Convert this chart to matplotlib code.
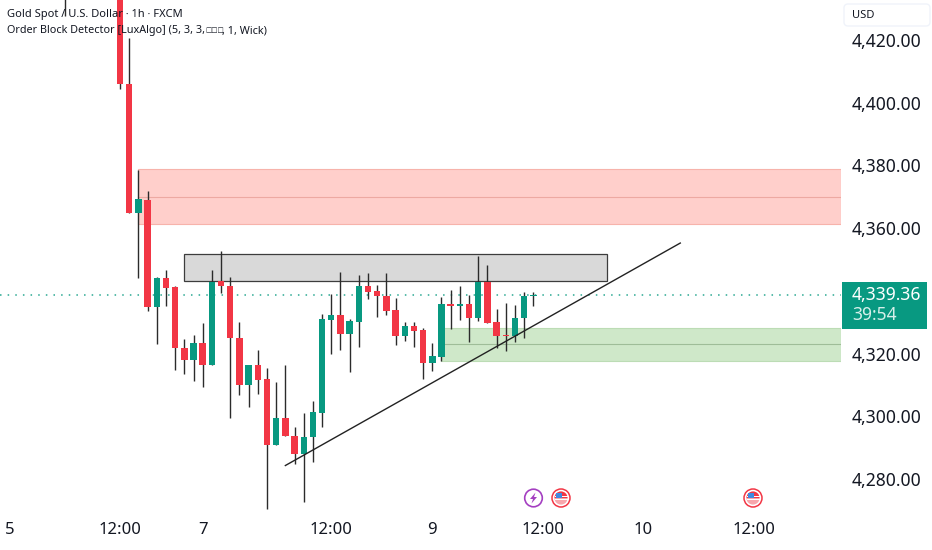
import matplotlib
matplotlib.use("Agg")
import matplotlib.pyplot as plt
from matplotlib.patches import Rectangle, Circle, FancyBboxPatch, Polygon, Wedge
import numpy as np

plt.rcParams['font.family'] = ['Noto Sans', 'DejaVu Sans']

# hourly candles, first six sit above the visible range
opens = [4446, 4452, 4458, 4462, 4455, 4448, 4440, 4405.97, 4364.83, 4368.98, 4334.85, 4344.1,
         4341.23, 4321.78, 4317.95, 4323.37, 4316.36, 4343.15, 4341.55, 4324.97, 4309.98, 4316.36,
         4311.89, 4290.85, 4299.45, 4293.72, 4287.97, 4293.4, 4301.05, 4330.71, 4332.3, 4326.24,
         4330.07, 4341.55, 4339.96, 4338.36, 4333.9, 4325.6, 4328.8, 4327.52, 4317.0, 4318.91,
         4335.81, 4335.3, 4335.81, 4331.35, 4342.83, 4330.07, 4325.92, 4325.6, 4331.35, 4338.36]
closes = [4441, 4458, 4462, 4455, 4448, 4440, 4405.97, 4364.83, 4369.3, 4334.85, 4344.1, 4340.91,
          4321.78, 4317.95, 4323.37, 4316.36, 4342.83, 4341.55, 4324.97, 4309.98, 4316.36, 4311.57,
          4290.85, 4299.45, 4293.72, 4287.97, 4293.4, 4301.37, 4331.03, 4332.3, 4326.24, 4330.39,
          4341.55, 4339.64, 4338.36, 4333.58, 4325.6, 4328.8, 4327.2, 4317.0, 4319.23, 4335.81,
          4335.3, 4335.81, 4331.35, 4342.83, 4329.75, 4325.6, 4325.6, 4331.35, 4338.36, 4338.68]
highs = [4452, 4462, 4466, 4466, 4460, 4452, 4444, 4420.64, 4378.54, 4371.85, 4344.42, 4346.65,
         4341.55, 4324.65, 4325.92, 4329.75, 4346.65, 4352.71, 4344.42, 4330.07, 4316.36, 4321.14,
         4315.4, 4310.93, 4316.36, 4296.58, 4301.05, 4304.88, 4332.62, 4339.0, 4346.02, 4331.03,
         4345.06, 4345.7, 4341.87, 4345.7, 4337.72, 4330.07, 4330.07, 4328.16, 4323.37, 4338.04,
         4340.27, 4341.55, 4338.68, 4351.12, 4348.25, 4334.22, 4336.13, 4335.49, 4339.64, 4339.64]
lows = [4427.65, 4440, 4442, 4445, 4440, 4436, 4404.38, 4364.83, 4344.1, 4333.58, 4323.05, 4335.17,
        4314.76, 4313.49, 4311.25, 4309.34, 4316.36, 4339.32, 4299.45, 4306.79, 4302.96, 4307.11,
        4270.43, 4290.85, 4293.72, 4284.79, 4272.67, 4285.42, 4296.58, 4319.86, 4321.14, 4314.13,
        4322.1, 4337.4, 4331.66, 4332.3, 4322.73, 4324.01, 4322.1, 4311.89, 4314.45, 4317.63,
        4327.84, 4330.71, 4323.69, 4330.39, 4329.75, 4321.78, 4320.82, 4323.69, 4324.97, 4335.17]

price_ticks = [4280, 4300, 4320, 4360, 4380, 4400, 4420]
time_ticks = [-6, 6, 15, 29, 40, 52, 63, 75]
time_labels = ["5", "12:00", "7", "12:00", "9", "12:00", "10", "12:00"]

# zones: start bar, top, middle, bottom
red_zone = [8, 4378.86, 4369.93, 4361.3]
green_zone = [41, 4328.16, 4322.9, 4317.63]
grey_box = [13, 59.05, 4351.6, 4343.3]
trend_x = [24, 67]
trend_y = [4284.3, 4355.25]

UP = "#089981"
DOWN = "#f23645"
INK = "#131722"

fig = plt.figure(figsize=(9.32, 5.5), dpi=100, facecolor="white")
ax = fig.add_axes([0, 1 - 512 / 550, 841 / 932, 512 / 550])
x0 = -7.07
x1 = 84.5
ax.set_xlim(x0, x1)
ax.set_ylim(4269.48, 4432.756)

o = np.array(opens)
c = np.array(closes)
h = np.array(highs)
l = np.array(lows)
idx = np.arange(len(o))
colors = [UP if b >= a else DOWN for a, b in zip(o, c)]

# zones under the candles
ax.add_patch(Rectangle((red_zone[0], red_zone[3]), x1 - red_zone[0], red_zone[1] - red_zone[3],
                       facecolor="#ffcfcb", edgecolor="#f7b3ab", lw=0.8, zorder=1))
ax.plot([red_zone[0], x1], [red_zone[2], red_zone[2]], color="#eda9a2", lw=0.8, zorder=1.5)
ax.add_patch(Rectangle((green_zone[0], green_zone[3]), x1 - green_zone[0], green_zone[1] - green_zone[3],
                       facecolor="#cfe8c9", edgecolor="#bcdcb5", lw=0.8, zorder=1))
ax.plot([green_zone[0], x1], [green_zone[2], green_zone[2]], color="#9fbd98", lw=0.8, zorder=1.5)
ax.add_patch(Rectangle((grey_box[0], grey_box[3]), grey_box[1] - grey_box[0], grey_box[2] - grey_box[3],
                       facecolor="#d9d9d9", edgecolor="#3d3d3d", lw=0.9, zorder=1))

# last price line
ax.plot([x0, x1], [closes[-1], closes[-1]], color="#2aa892", lw=1.1, ls=(0, (1, 4)), zorder=2)

ax.vlines(idx, l, h, color="#2b2b2b", lw=1.0, zorder=3)
ax.bar(idx, np.abs(c - o), bottom=np.minimum(o, c), width=0.7, color=colors, lw=0, zorder=4)

ax.plot(trend_x, trend_y, color="#222222", lw=1.0, zorder=5)

for s in ax.spines.values():
    s.set_visible(False)
ax.yaxis.tick_right()
ax.set_yticks(price_ticks)
ax.set_yticklabels([f"{v:,.2f}" for v in price_ticks], fontsize=12.6, color=INK)
ax.set_xticks(time_ticks)
ax.set_xticklabels(time_labels, fontsize=12, color=INK)
ax.tick_params(axis="y", length=0, pad=7.5)
ax.tick_params(axis="x", length=0, pad=7)

# overlay in pixel coordinates for the header, price tag and event icons
ov = fig.add_axes([0, 0, 1, 1], facecolor="none")
ov.set_xlim(0, 932)
ov.set_ylim(550, 0)
ov.axis("off")

ov.text(7, 15, "Gold Spot / U.S. Dollar · 1h · FXCM", fontsize=8.0, fontweight="bold",
        color=INK, va="center")
ov.text(7, 31, "Order Block Detector [LuxAlgo] (5, 3, 3,", fontsize=7.8, color=INK, va="center")
ov.text(205, 31, "□□□", fontsize=4.8, color=INK, va="center")
ov.text(222.5, 31, ", 1, Wick)", fontsize=7.8, color=INK, va="center")

ov.add_patch(FancyBboxPatch((844, 4), 86, 22, boxstyle="round,pad=0,rounding_size=4",
                            facecolor="white", edgecolor="#f0f3fa", lw=1))
ov.text(852, 16, "USD", fontsize=8.0, color=INK, va="center")

ov.add_patch(Rectangle((841.5, 282), 85.5, 47, facecolor=UP, edgecolor="none"))
ov.text(852, 294.5, "4,339.36", fontsize=12.6, color="white", va="center", zorder=5)
ov.text(852, 315, "39:54", fontsize=12.6, color="#d5efe9", va="center", zorder=5)


def flag(cx, cy):
    ov.add_patch(Circle((cx, cy), 9, facecolor="white", edgecolor="#f23645", lw=1.1))
    ov.add_patch(Wedge((cx, cy), 6.6, 0, 180, facecolor="#f7a6ac", edgecolor="none"))
    ov.add_patch(Wedge((cx, cy), 6.6, 180, 360, facecolor="#f23645", edgecolor="none"))
    ov.add_patch(Rectangle((cx - 6.5, cy + 0.6), 13, 1.6, facecolor="white", edgecolor="none"))
    ov.add_patch(Rectangle((cx - 6.5, cy - 2.4), 13, 1.2, facecolor="white", edgecolor="none"))
    ov.add_patch(Rectangle((cx - 5.5, cy - 5.2), 6.5, 5.4, facecolor="#3f8ae0", edgecolor="none"))


ov.add_patch(Circle((533.5, 498), 8.8, facecolor="white", edgecolor="#a43fc1", lw=1.2))
ov.add_patch(Polygon([(535.5, 492.5), (530, 499), (533, 499), (531.5, 503.5), (537, 497), (534, 497)],
                     facecolor="#a43fc1", edgecolor="none"))
flag(561, 498)
flag(753, 498)

fig.savefig("out.png", dpi=100, facecolor="white")
